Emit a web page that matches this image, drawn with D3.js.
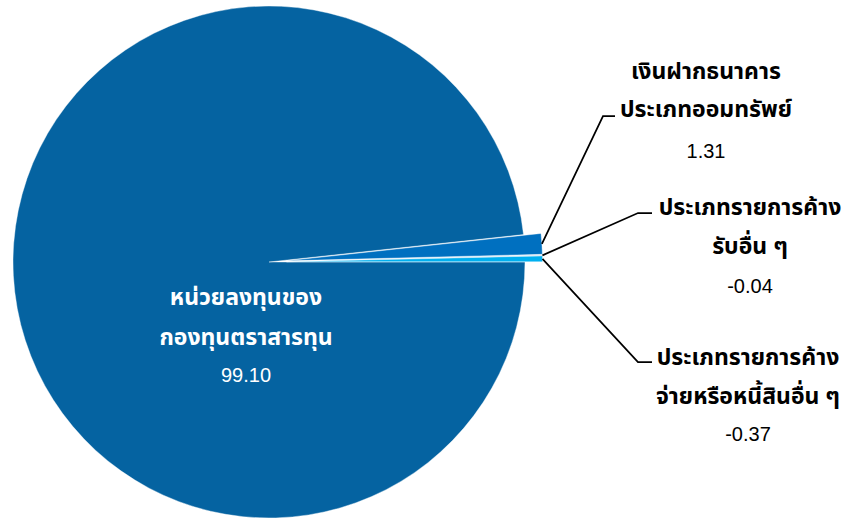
<!DOCTYPE html>
<html><head><meta charset="utf-8">
<script src="https://cdn.jsdelivr.net/npm/d3@7"></script>
<style>
html,body{margin:0;padding:0;background:#fff;}
svg{display:block;}
.th{font-family:"Noto Sans Thai","Tahoma","Noto Sans","DejaVu Sans",sans-serif;font-weight:bold;font-size:23px;}
.num{font-family:"Liberation Sans",Arial,sans-serif;font-size:20px;}
</style>
</head><body>
<svg id="c" width="856" height="519"></svg>
<script>
const categories = [
  ["หน่วยลงทุนของ", "กองทุนตราสารทุน"],
  ["เงินฝากธนาคาร", "ประเภทออมทรัพย์"],
  ["ประเภทรายการค้าง", "รับอื่น ๆ"],
  ["ประเภทรายการค้าง", "จ่ายหรือหนี้สินอื่น ๆ"]
];
const values = [99.10, 1.31, -0.04, -0.37];
const valueLabels = ["99.10", "1.31", "-0.04", "-0.37"];
const colors = ["#0563a1", "#0070c0", "#9dc3e6", "#00b0f0"];

const W = 856, H = 519;
const cx = 269, cy = 262, R = 256, explode = 17.5;
const svg = d3.select("#c");

const pie = d3.pie().sort(null).value(d => Math.abs(d))
  .startAngle(Math.PI / 2).endAngle(Math.PI / 2 + 2 * Math.PI);
const arcs = pie(values);
const arc = d3.arc().innerRadius(0).outerRadius(R);

const g = svg.append("g").attr("transform", `translate(${cx},${cy})`);
function off(d, i) {
  if (i === 0) return [0, 0];
  const a = (d.startAngle + d.endAngle) / 2;
  return [explode * Math.sin(a), -explode * Math.cos(a)];
}
g.selectAll("path").data(arcs).join("path")
  .attr("d", arc)
  .attr("fill", (d, i) => colors[i])
  .attr("stroke", "#fff").attr("stroke-width", 0.4)
  .attr("transform", (d, i) => { const o = off(d, i); return `translate(${o[0]},${o[1]})`; });

// label layout (positions)
const labelPos = [
  {x: 246, y: [305, 345, 382]},
  {x: 706, y: [79, 117, 158], lead: [603, 116, 615]},
  {x: 750, y: [215, 254, 293], lead: [638, 213, 652]},
  {x: 748, y: [365, 404, 441], lead: [638, 362, 652]}
];

arcs.forEach((d, i) => {
  const p = labelPos[i];
  const fill = i === 0 ? "#fff" : "#000";
  categories[i].forEach((t, j) => {
    svg.append("text").attr("class", "th").attr("x", p.x).attr("y", p.y[j])
      .attr("text-anchor", "middle").attr("fill", fill).text(t);
  });
  svg.append("text").attr("class", "num").attr("x", p.x).attr("y", p.y[2])
    .attr("text-anchor", "middle").attr("fill", fill).text(valueLabels[i]);
  if (p.lead) {
    const a = (d.startAngle + d.endAngle) / 2;
    const o = off(d, i);
    const sx = cx + o[0] + R * Math.sin(a), sy = cy + o[1] - R * Math.cos(a);
    svg.append("path")
      .attr("d", d3.line()([[sx, sy], [p.lead[0], p.lead[1]], [p.lead[2], p.lead[1]]]))
      .attr("fill", "none").attr("stroke", "#000").attr("stroke-width", 1.75);
  }
});
</script>
</body></html>
